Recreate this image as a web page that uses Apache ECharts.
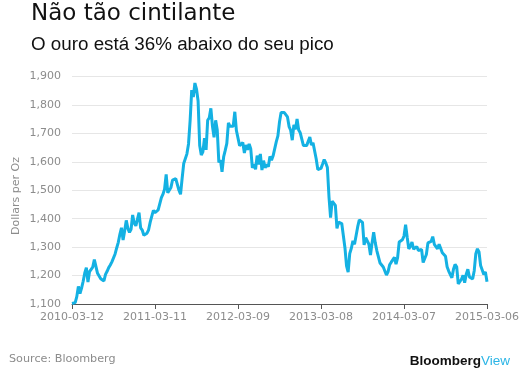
<!DOCTYPE html>
<html>
<head>
<meta charset="utf-8">
<script src="https://cdn.jsdelivr.net/npm/echarts@6/dist/echarts.min.js"></script>
<style>
html,body{margin:0;padding:0;background:#fff;}
#chart{width:529px;height:374px;}
</style>
</head>
<body>
<div id="chart"></div>
<script>
// Weekly gold price (USD/oz), Fridays from 2010-03-12 to 2015-03-06
var startDate = '2010-03-12';
var tickLabels = ['2010-03-12','2011-03-11','2012-03-09','2013-03-08','2014-03-07','2015-03-06'];
var yTicks = [1100,1200,1300,1400,1500,1600,1700,1800,1900];
var prices2010 = [1102,1106,1105,1126,1162,1137,1156,1180,1209,1228,1177,1214,1218,1230,1256,1256,1208,1210,1189,1189,1181,1204,1215,1228,1237,1248,1246,1276,1297,1317,1345,1368,1325,1358,1394,1366,1352,1363,1413,1384,1375,1380,1421];
var prices2011 = [1368,1360,1342,1341,1349,1361,1388,1409,1429,1421,1418,1431,1429,1474,1486,1504,1556,1491,1493,1510,1536,1542,1541,1539,1500,1486,1542,1594,1601,1628,1663,1745,1852,1828,1877,1856,1814,1657,1624,1635,1683,1642,1746,1755,1788,1725,1686,1746,1712,1598,1606,1565];
var prices2012 = [1617,1640,1665,1737,1725,1725,1725,1776,1710,1712,1657,1662,1668,1631,1659,1642,1663,1645,1579,1592,1574,1622,1591,1628,1571,1604,1579,1591,1583,1619,1606,1621,1616,1671,1691,1740,1773,1774,1773,1780,1758,1724,1711,1676,1730,1714,1751,1712,1702,1696,1657,1656];
var prices2013 = [1657,1662,1687,1659,1667,1667,1610,1573,1576,1577,1592,1608,1596,1580,1477,1404,1462,1468,1447,1366,1388,1393,1383,1388,1298,1234,1212,1277,1296,1322,1310,1312,1372,1396,1396,1387,1308,1333,1338,1310,1272,1315,1352,1315,1287,1288,1244,1250,1230,1234,1202,1213];
var prices2014 = [1238,1247,1253,1264,1240,1263,1318,1323,1326,1339,1379,1335,1294,1303,1318,1293,1300,1302,1288,1293,1292,1246,1253,1274,1315,1316,1320,1337,1310,1307,1294,1310,1305,1280,1286,1268,1231,1216,1217,1192,1222,1239,1231,1171,1177,1187,1201,1175,1205,1222,1195,1195];
var prices2015 = [1188,1217,1277,1294,1283,1235,1228,1204,1213,1178];

var values = [].concat(prices2010, prices2011, prices2012, prices2013, prices2014, prices2015);

// weekly category dates
var dates = [];
(function(){
  var d = new Date(startDate + 'T00:00:00Z');
  for (var i = 0; i < values.length; i++) {
    dates.push(d.toISOString().slice(0,10));
    d = new Date(d.getTime() + 7*86400000);
  }
})();

var chart = echarts.init(document.getElementById('chart'), null, {renderer:'canvas'});
var labelFont = 'DejaVu Sans';
var gray = '#8c8c8c';
chart.setOption({
  animation: false,
  backgroundColor: '#fff',
  title: [
    {text: 'Não tão cintilante', left: 26, top: -2, padding: 5,
     textStyle: {fontFamily: 'DejaVu Sans', fontSize: 23, fontWeight: 'normal', color: '#111'}},
    {text: 'O ouro está 36% abaixo do seu pico', left: 26, top: 30, padding: 5,
     textStyle: {fontFamily: 'Liberation Sans', fontSize: 18.8, fontWeight: 'normal', color: '#111'}},
    {text: 'Source: Bloomberg', left: 4, top: 349, padding: 5,
     textStyle: {fontFamily: labelFont, fontSize: 11.2, fontWeight: 'normal', color: gray}}
  ],
  graphic: [
    {type: 'text', right: 19, top: 354,
     style: {rich: {a:{fontFamily:'Liberation Sans', fontSize: 13.5, fontWeight:'bold', fill:'#111'}, b:{fontFamily:'Liberation Sans', fontSize:13.5, fontWeight:'normal', fill:'#2bb5e6'}},
             text: '{a|Bloomberg}{b|View}'}},
    {type: 'text', x: 16, y: 196, rotation: Math.PI/2,
     style: {text: 'Dollars per Oz', fill: gray, fontFamily: labelFont, fontSize: 11, align: 'center', verticalAlign: 'middle'}}
  ],
  grid: {left: 72, right: 42, top: 76.5, bottom: 70, containLabel: false},
  xAxis: {
    type: 'category',
    data: dates,
    boundaryGap: false,
    axisLine: {lineStyle: {color: '#555', width: 1}},
    axisTick: {interval: 51, length: 5, lineStyle: {color: '#555'}},
    axisLabel: {interval: 51, color: gray, fontFamily: labelFont, fontSize: 11, margin: 8,
                formatter: function(v){ return tickLabels.indexOf(v) >= 0 ? v : ''; }},
    splitLine: {show: false}
  },
  yAxis: {
    type: 'value',
    min: yTicks[0], max: yTicks[yTicks.length-1], interval: 100,
    axisLine: {show: false}, axisTick: {show: false},
    axisLabel: {color: gray, fontFamily: labelFont, fontSize: 11, margin: 11,
                formatter: function(v){ return v.toLocaleString('en-US'); }},
    splitLine: {lineStyle: {color: '#e6e6e6', width: 1}}
  },
  series: [{
    type: 'line', data: values, showSymbol: false, symbol: 'none',
    lineStyle: {color: '#14b1e3', width: 3}, z: 3
  }]
});
</script>
</body>
</html>
